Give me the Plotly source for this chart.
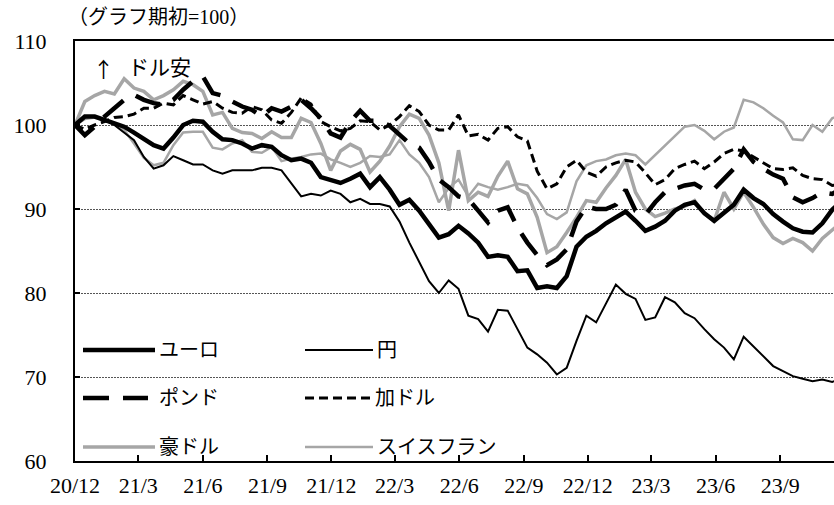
import pandas as pd
import plotly.graph_objects as go

# 隔週サンプル（グラフ期初=100）
fechas = pd.date_range("2020-12-01", periods=79, freq="14D")

euro = [100, 101, 101, 100.6, 100.3, 99.8, 99.1, 98.3, 97.6, 97.2,
        98.5, 100, 100.5, 100.4, 99.2, 98.3, 98.2, 97.8, 97.2, 97.6,
        97.4, 96.4, 95.8, 96, 95.5, 93.8, 93.4, 93.1, 93.6, 94.2,
        92.6, 93.8, 92.3, 90.5, 91.1, 89.8, 88.2, 86.6, 87, 88,
        87.1, 86, 84.3, 84.5, 84.3, 82.6, 82.7, 80.6, 80.8, 80.6,
        82, 85.5, 86.7, 87.4, 88.3, 89, 89.7, 88.6, 87.4, 87.9,
        88.6, 89.8, 90.5, 90.8, 89.5, 88.6, 89.6, 90.5, 92.3, 91.3,
        90.6, 89.4, 88.5, 87.7, 87.3, 87.2, 88.3, 89.9, 91]

yen = [100, 101, 101, 100.6, 100, 99.1, 98.2, 96.2, 94.8, 95.2,
       96.3, 95.8, 95.3, 95.3, 94.6, 94.2, 94.6, 94.6, 94.6, 94.9,
       94.9, 94.6, 93, 91.5, 91.8, 91.6, 92.2, 91.8, 90.8, 91.2,
       90.6, 90.6, 90.3, 88.5, 86, 83.6, 81.4, 80, 81.5, 80.5,
       77.3, 76.9, 75.4, 78, 77.9, 75.7, 73.5, 72.7, 71.7, 70.3,
       71.1, 74.3, 77.3, 76.5, 78.7, 81, 79.9, 79.3, 76.8, 77.1,
       79.5, 78.9, 77.6, 77, 75.7, 74.5, 73.5, 72.1, 74.8, 73.6,
       72.4, 71.3, 70.7, 70.1, 69.8, 69.5, 69.7, 69.4, 69.9]

pound = [100, 98.8, 99.8, 101, 102, 103, 103.6, 103, 102.6, 102.4,
         103, 104.2, 105.2, 105.8, 103.8, 103.5, 102.8, 102.2, 101.8, 101,
         102, 101.6, 102.2, 103, 102, 100.8, 99, 98.5, 100.4, 101.7,
         100.5, 100.5, 99.9, 98.8, 97.8, 97.3, 95.6, 93.5, 92.6, 91.5,
         91.2, 89.8, 88.4, 89.8, 90.2, 87.8, 86, 84.5, 83.3, 84,
         85.2, 88.5, 90.3, 90, 90, 90.5, 92.3, 89.8, 89.3, 90.8,
         92, 92.4, 92.8, 93, 92.3, 92.4, 93.6, 94.8, 97.1, 95.6,
         94.8, 94.1, 93.6, 91.4, 90.8, 91.3, 92, 91.8, 92.5]

cad = [100, 99.5, 100, 100.4, 100.9, 101, 101.3, 102, 102, 102.6,
       102.4, 103.5, 103, 102.5, 102.8, 102, 101.5, 101.4, 102.2, 101.8,
       100.6, 100.2, 101.5, 103.2, 102.5, 100.4, 99.8, 99.3, 99.6, 100.5,
       100.4, 99.4, 100, 101, 102.3, 101.6, 100, 99.4, 99.4, 101.2,
       98.7, 98.9, 98.2, 99.6, 99.8, 98.6, 98.1, 94.5, 92.4, 93,
       95, 95.8, 94.4, 93.9, 95, 95.5, 95.8, 95.6, 94.3, 92.9,
       93.5, 94.8, 95.3, 95.7, 94.8, 95.6, 96.6, 97.1, 96.9, 96.2,
       95.5, 94.8, 94.7, 94.9, 94, 93.6, 93.5, 92.8, 93]

aud = [100, 102.8, 103.5, 104, 103.7, 105.5, 104.4, 104, 103, 103.5,
       104.2, 105.2, 104.8, 104, 101.2, 101.5, 99.6, 99.1, 99, 98.4,
       99.2, 98.5, 98.5, 100.8, 100.3, 97.8, 94.6, 96.9, 97.7, 97.1,
       94.4, 95.7, 97.5, 99.8, 101.3, 100.8, 98.8, 95.5, 89.8, 97,
       91, 92, 91.5, 93.9, 95.7, 92.4, 91.8, 89, 84.8, 85.5,
       87.2, 89, 91, 90.8, 92.5, 94, 95.9, 92, 90, 89.1,
       89.5, 90, 90.3, 91, 89.4, 88.6, 92, 90, 92, 90.2,
       88.2, 86.6, 85.9, 86.5, 86, 85, 86.5, 87.5, 88.5]

chf = [100, 100.7, 100.9, 100.6, 100.1, 99.4, 97.8, 96.1, 95.2, 95.5,
       97.6, 99.1, 99.2, 99.2, 97.3, 97.1, 97.8, 98.2, 96.8, 96.7,
       97.4, 95.7, 96, 96.2, 96.5, 96.6, 95.9, 95.5, 95, 95.5,
       96.3, 96.2, 96.5, 98.2, 96.5, 95.5, 93.8, 90.8, 92.5, 93.5,
       91.5, 93, 92.6, 92.3, 92.6, 93, 92.8, 91.3, 89.4, 88.8,
       89.6, 93.3, 95.2, 95.7, 95.9, 96.4, 96.6, 96.4, 95.3, 96.4,
       97.5, 98.6, 99.8, 100, 99.3, 98.3, 99.2, 99.7, 103, 102.7,
       102, 101.1, 100.3, 98.3, 98.2, 100, 99.2, 100.8, 101.3]

tick_vals = ["2020-12-01", "2021-03-01", "2021-06-01", "2021-09-01",
             "2021-12-01", "2022-03-01", "2022-06-01", "2022-09-01",
             "2022-12-01", "2023-03-01", "2023-06-01", "2023-09-01"]
tick_text = ["20/12", "21/3", "21/6", "21/9", "21/12", "22/3",
             "22/6", "22/9", "22/12", "23/3", "23/6", "23/9"]

FUENTE = "Liberation Serif, Noto Sans CJK JP, serif"
GRIS = "#A6A6A6"

W, H = 834, 505
L, R, T, B = 75, 0, 41, 44


def px(x):
    return (x - L) / (W - L - R)


def py(y):
    return (H - B - y) / (H - T - B)


series = [
    ("スイスフラン", chf, GRIS, 2.5, "solid"),
    ("豪ドル", aud, GRIS, 3.5, "solid"),
    ("加ドル", cad, "black", 3, "9px,5px"),
    ("ポンド", pound, "black", 4.5, "26px,14px"),
    ("円", yen, "black", 2, "solid"),
    ("ユーロ", euro, "black", 4.5, "solid"),
]

fig = go.Figure()

for nombre, valores, color, ancho, dash in series:
    fig.add_trace(
        go.Scatter(
            x=fechas,
            y=valores,
            name=nombre,
            mode="lines",
            line=dict(color=color, width=ancho, dash=dash),
            showlegend=False
        )
    )

# 凡例（手描き）
leyenda = [
    (350, 83, 155, 157, "ユーロ", "black", 4.5, "solid"),
    (350, 305, 373, 375, "円", "black", 2, "solid"),
    (398, 83, 148, 157, "ポンド", "black", 4.5, "26px,14px"),
    (398, 305, 371, 373, "加ドル", "black", 3, "9px,5px"),
    (447, 83, 155, 157, "豪ドル", GRIS, 3.5, "solid"),
    (447, 305, 373, 375, "スイスフラン", GRIS, 2.5, "solid"),
]

shapes = []
annotations = []
for yy, x0, x1, xt, texto, color, ancho, dash in leyenda:
    shapes.append(dict(
        type="line", xref="paper", yref="paper",
        x0=px(x0), x1=px(x1), y0=py(yy), y1=py(yy),
        line=dict(color=color, width=ancho, dash=dash)
    ))
    annotations.append(dict(
        text=texto, xref="paper", yref="paper",
        x=px(xt), y=py(yy), xanchor="left", yanchor="middle",
        showarrow=False, font=dict(size=20, color="black", family=FUENTE)
    ))

annotations.append(dict(
    text="（グラフ期初=100）", xref="paper", yref="paper",
    x=px(66), y=py(17), xanchor="left", yanchor="middle",
    showarrow=False, font=dict(size=20, color="black", family=FUENTE)
))
annotations.append(dict(
    text="↑", xref="paper", yref="paper",
    x=px(91), y=py(68), xanchor="left", yanchor="middle",
    showarrow=False, font=dict(size=21, color="black", family="Noto Sans CJK JP")
))
annotations.append(dict(
    text="ドル安", xref="paper", yref="paper",
    x=px(126), y=py(68), xanchor="left", yanchor="middle",
    showarrow=False, font=dict(size=21, color="black", family=FUENTE)
))

fig.update_layout(
    width=W,
    height=H,
    margin=dict(l=L, r=R, t=T, b=B),
    plot_bgcolor="white",
    paper_bgcolor="white",
    font=dict(family=FUENTE, color="black", size=21),
    shapes=shapes,
    annotations=annotations,
    xaxis=dict(
        type="date",
        range=["2020-12-01", "2023-11-16 14:00"],
        tickmode="array",
        tickvals=tick_vals,
        ticktext=tick_text,
        ticks="inside",
        ticklen=6,
        tickwidth=1.5,
        tickcolor="black",
        showline=True,
        linecolor="black",
        linewidth=2,
        mirror=True,
        showgrid=False,
        zeroline=False,
        ticklabelstandoff=4,
        tickfont=dict(size=22)
    ),
    yaxis=dict(
        range=[60, 110],
        dtick=10,
        ticks="inside",
        ticklen=5,
        tickwidth=1.5,
        tickcolor="black",
        showline=True,
        linecolor="black",
        linewidth=2,
        showgrid=True,
        gridcolor="#555555",
        gridwidth=1,
        griddash="2px,1px",
        zeroline=False,
        ticklabelstandoff=22,
        tickfont=dict(size=22)
    )
)

fig.write_html(
    "out.html",
    config={"displayModeBar": False},
    post_script="document.body.style.margin='0';"
)
